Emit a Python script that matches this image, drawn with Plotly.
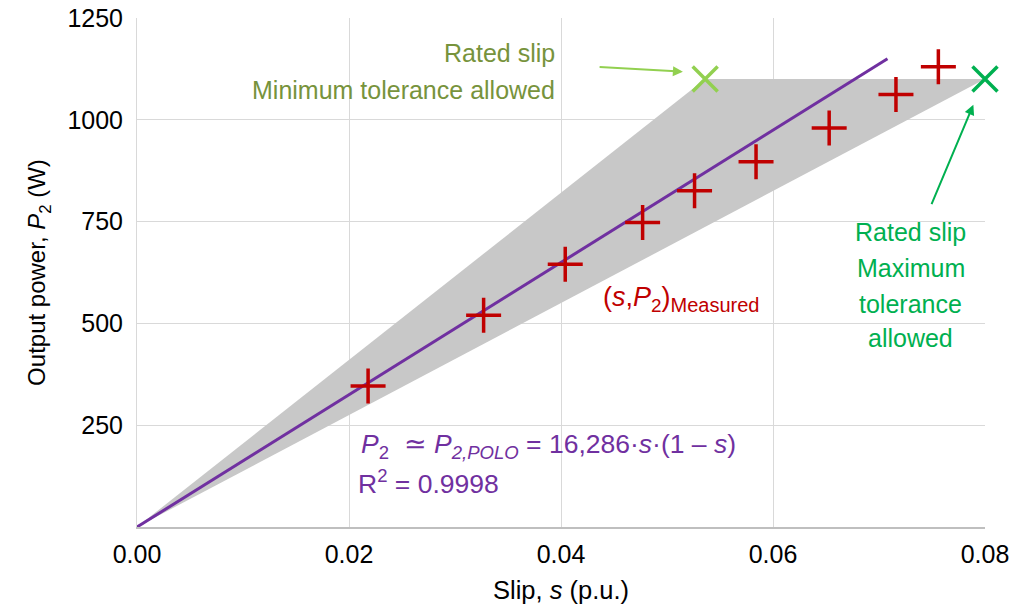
import plotly.graph_objects as go

# Measured points (slip, output power)
slip_meas = [0.0218, 0.0327, 0.0404, 0.0477, 0.0526, 0.0584, 0.0653, 0.0716, 0.0756]
p2_meas = [346, 520, 645, 748, 826, 897, 980, 1062, 1130]

# Fitted line
slip_fit = [0.0, 0.0708]
p2_fit = [0.0, 1150.0]

# Tolerance region
slip_band = [0.0, 0.0536, 0.08, 0.0]
p2_band = [0.0, 1100.0, 1100.0, 0.0]

# Rated slip points
slip_min = [0.0536]
slip_max = [0.08]
p2_rated = [1100]

x_ticks = [0.0, 0.02, 0.04, 0.06, 0.08]
x_tick_text = ["0.00", "0.02", "0.04", "0.06", "0.08"]
y_ticks = [250, 500, 750, 1000, 1250]
y_tick_text = ["250", "500", "750", "1000", "1250"]

FONT = "Liberation Sans, Arial, sans-serif"

fig = go.Figure()
fig.add_trace(go.Scatter(x=slip_band, y=p2_band, fill="toself", mode="none",
                         fillcolor="#c8c8c8", hoverinfo="skip", showlegend=False))
fig.add_trace(go.Scatter(x=slip_fit, y=p2_fit, mode="lines",
                         line=dict(color="#7030A0", width=3), showlegend=False))
fig.add_trace(go.Scatter(x=slip_meas, y=p2_meas, mode="markers", cliponaxis=False,
                         marker=dict(symbol="cross-thin", size=25, color="#C00000",
                                     line=dict(color="#C00000", width=3.5)), showlegend=False))
fig.add_trace(go.Scatter(x=slip_min, y=p2_rated, mode="markers", cliponaxis=False,
                         marker=dict(symbol="x-thin", size=25, color="#92D050",
                                     line=dict(color="#92D050", width=3.5)), showlegend=False))
fig.add_trace(go.Scatter(x=slip_max, y=p2_rated, mode="markers", cliponaxis=False,
                         marker=dict(symbol="x-thin", size=25, color="#00B050",
                                     line=dict(color="#00B050", width=3.5)), showlegend=False))

ann = []
def txt(x, y, t, color, size, xanchor="left"):
    ann.append(dict(x=x, y=y, xref="x", yref="y", text=t, showarrow=False,
                    xanchor=xanchor, yanchor="middle",
                    font=dict(family=FONT, size=size, color=color)))

olive = "#77933C"
txt(0.0396, 1164, "Rated slip", olive, 25, "right")
txt(0.0396, 1074, "Minimum tolerance allowed", olive, 25, "right")
green = "#00B050"
for yy, t in zip([725, 635, 547, 463], ["Rated slip", "Maximum", "tolerance", "allowed"]):
    txt(0.0730, yy, t, green, 25, "center")
txt(0.0438, 561, "(<i>s</i>,<i>P</i><sub>2</sub>)<sub><span style='font-size:20px'>Measured</span></sub>",
    "#C00000", 27)
purple = "#7030A0"
txt(0.0209, 199, "<i>P</i><sub>2</sub>  ≃ <i>P</i><sub><i>2,POLO</i></sub> = 16,286·<i>s</i>·(1 – <i>s</i>)",
    purple, 26.5)
txt(0.0207, 110, "R<sup>2</sup> = 0.9998", purple, 26.5)

ann.append(dict(x=0.0515, y=1118, ax=0.0435, ay=1130, xref="x", yref="y",
                axref="x", ayref="y", showarrow=True, arrowhead=2, arrowsize=1,
                arrowwidth=2, arrowcolor="#92D050", text=""))
ann.append(dict(x=0.0789, y=1037, ax=0.0749, ay=789, xref="x", yref="y",
                axref="x", ayref="y", showarrow=True, arrowhead=2, arrowsize=1,
                arrowwidth=2, arrowcolor="#00B050", text=""))

fig.update_layout(
    width=1019, height=612,
    margin=dict(l=137, r=34, t=18, b=85),
    plot_bgcolor="white", paper_bgcolor="white",
    font=dict(family=FONT, color="black"),
    annotations=ann,
    xaxis=dict(range=[0, 0.08], tickvals=x_ticks, ticktext=x_tick_text,
               showgrid=True, gridcolor="#d9d9d9", gridwidth=1,
               showline=True, linecolor="#bfbfbf", linewidth=2,
               zeroline=False, ticks="", tickfont=dict(size=25), automargin=False,
               ticklabelstandoff=4, ticklabeloverflow="allow",
               title=dict(text="Slip, <i>s</i> (p.u.)", font=dict(size=25.5), standoff=14)),
    yaxis=dict(range=[0, 1250], tickvals=y_ticks, ticktext=y_tick_text,
               showgrid=True, gridcolor="#d9d9d9", gridwidth=1,
               showline=True, linecolor="#d9d9d9", linewidth=1,
               zeroline=False, ticks="", tickfont=dict(size=25), ticklabelstandoff=8,
               automargin=False, ticklabeloverflow="allow",
               title=dict(text="Output power, <i>P</i><sub>2</sub> (W)", font=dict(size=24), standoff=14)),
)

fig.write_html("out.html", config={"displayModeBar": False},
               post_script="document.body.style.margin='0';document.body.style.overflow='hidden';")
